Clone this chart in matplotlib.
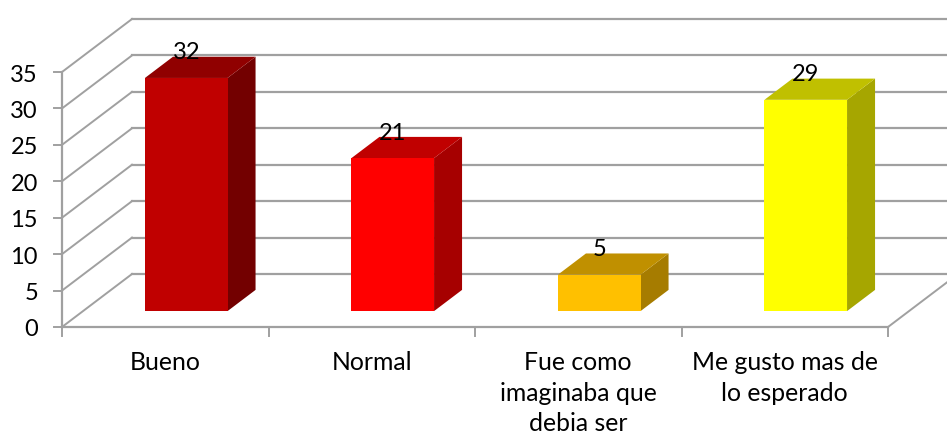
import matplotlib
matplotlib.use("Agg")
import matplotlib.pyplot as plt
from matplotlib.patches import Polygon

plt.rcParams['font.family'] = ['Lato', 'DejaVu Sans']

# --- Data ---
categories = ["Bueno", "Normal", "Fue como\nimaginaba que\ndebia ser", "Me gusto mas de\nlo esperado"]
values = [32, 21, 5, 29]
y_ticks = [0, 5, 10, 15, 20, 25, 30, 35]
front_colors = ["#C00000", "#FF0000", "#FFC000", "#FFFF00"]
top_colors = ["#900000", "#C00000", "#C09000", "#C0C000"]
side_colors = ["#730000", "#A60000", "#A67C00", "#A6A600"]

# --- Fake 3D projection, cat/value/depth to pixels ---
X0, Y0 = 62, 327
CAT_W = 206.5
UNIT = 255 / 35
DX, DY = 70, 53
GRID = "#A0A0A0"


def proj(cat, val, depth=0.0):
    return (X0 + CAT_W * cat + DX * depth, Y0 - UNIT * val - DY * depth)


fig = plt.figure(figsize=(9.47, 4.37), dpi=100)
ax = fig.add_axes([0, 0, 1, 1])
ax.set_xlim(0, 947)
ax.set_ylim(437, 0)
ax.axis("off")

n = len(categories)

# walls and gridlines
for t in y_ticks:
    a, b = proj(0, t), proj(0, t, 1)
    ax.plot([a[0], b[0]], [a[1], b[1]], color=GRID, lw=1.4, zorder=1)
    c = proj(n, t, 1)
    ax.plot([b[0], c[0]], [b[1], c[1]], color=GRID, lw=1.6, zorder=1)
    ax.plot([a[0] - 8, a[0]], [a[1], a[1]], color=GRID, lw=1.4, zorder=1)
    ax.text(a[0] - 24, a[1] + 3, str(t), ha="right", va="center", fontsize=17, color="black")

# y axis line and floor
a, b = proj(0, 0), proj(0, 35)
ax.plot([a[0], b[0]], [a[1], b[1]], color=GRID, lw=1.6, zorder=1)
a, b = proj(0, 0), proj(n, 0)
ax.plot([a[0], b[0]], [a[1], b[1]], color=GRID, lw=1.6, zorder=1)
c = proj(n, 0, 1)
ax.plot([b[0], c[0]], [b[1], c[1]], color=GRID, lw=1.4, zorder=1)
for i in range(n + 1):
    p = proj(i, 0)
    ax.plot([p[0], p[0]], [p[1], p[1] + 9], color=GRID, lw=1.4, zorder=1)

# bars
for i, v in enumerate(values):
    l, r = i + 0.3, i + 0.7
    d0, d1 = 0.3, 0.7
    front = [proj(l, 0, d0), proj(r, 0, d0), proj(r, v, d0), proj(l, v, d0)]
    side = [proj(r, 0, d0), proj(r, 0, d1), proj(r, v, d1), proj(r, v, d0)]
    top = [proj(l, v, d0), proj(r, v, d0), proj(r, v, d1), proj(l, v, d1)]
    ax.add_patch(Polygon(side, closed=True, fc=side_colors[i], ec="none", zorder=2))
    ax.add_patch(Polygon(top, closed=True, fc=top_colors[i], ec="none", zorder=2))
    ax.add_patch(Polygon(front, closed=True, fc=front_colors[i], ec="none", zorder=3))
    px, py = proj(i + 0.5, v, d0)
    ax.text(px, py - 25, str(v), ha="center", va="center", fontsize=17, color="black", zorder=4)

# category labels
for i, name in enumerate(categories):
    px, py = proj(i + 0.5, 0)
    ax.text(px, py + 24, name, ha="center", va="top", fontsize=17.8, color="black",
            linespacing=1.4)

fig.savefig("out.png", dpi=100)
